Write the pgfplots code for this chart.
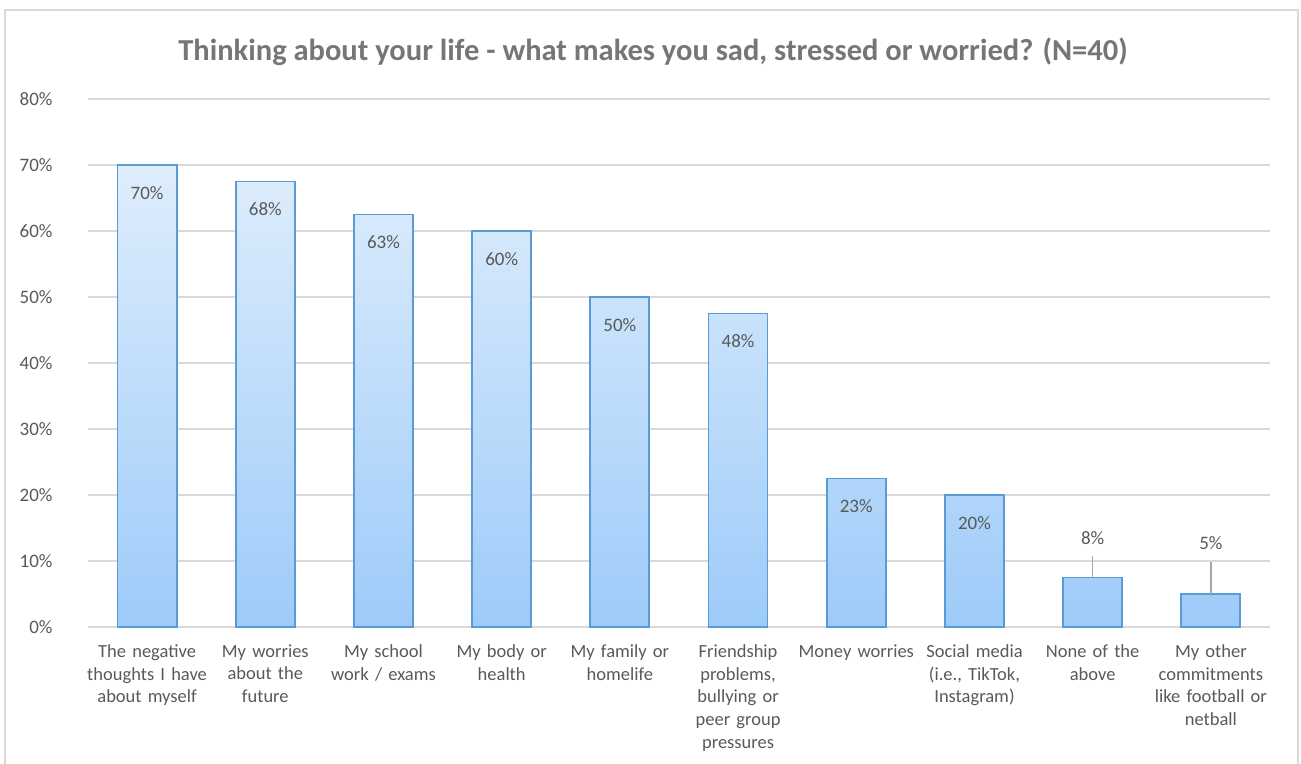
\documentclass[border=0pt]{standalone}
\usepackage{pgfplots}
\pgfplotsset{compat=1.18}
\usepackage{pgfplotstable}
\usepackage{fontspec}
\setmainfont{Carlito}
\definecolor{txt}{HTML}{595959}
\definecolor{ttl}{HTML}{767676}
\definecolor{gridc}{HTML}{D9D9D9}
\definecolor{barline}{HTML}{5B9BD5}
\definecolor{bartop}{HTML}{DEEDFC}
\definecolor{barbot}{HTML}{9DCBF9}
\definecolor{leader}{HTML}{A6A6A6}

\pgfplotstableread{
x y lab
0 70 70
1 67.5 68
2 62.5 63
3 60 60
4 50 50
5 47.5 48
6 22.5 23
7 20 20
8 7.5 8
9 5 5
}\alldata
\pgfplotstableread{
x y lab
0 70 70
1 67.5 68
2 62.5 63
3 60 60
4 50 50
5 47.5 48
6 22.5 23
7 20 20
}\inside
\pgfplotstableread{
x y lab
8 7.5 8
}\outA
\pgfplotstableread{
x y lab
9 5 5
}\outB

\begin{document}
\begin{tikzpicture}[x=1bp,y=1bp]
\useasboundingbox (0,0) rectangle (1301,763);
\draw[gridc, line width=1.2bp] (5,-20) -- (5,753) -- (1298,753) -- (1298,-20);
\node[font=\fontsize{30.5bp}{36bp}\selectfont\bfseries, text=ttl] at (653,711)
  {Thinking about your life - what makes you sad, stressed or worried? (N=40)};
\begin{axis}[
  at={(88bp,136bp)}, anchor=south west,
  scale only axis, width=1182bp, height=528bp,
  xmin=-0.5, xmax=9.5, ymin=0, ymax=80,
  ytick={0,10,...,80},
  yticklabel={\pgfmathprintnumber{\tick}\%},
  /pgf/number format/assume math mode=true,
  ymajorgrids, grid style={gridc, line width=1.3bp},
  axis line style={draw=none},
  major tick length=0pt,
  xtick={0,...,9},
  xticklabels={{The negative\\thoughts I have\\about myself}, {My worries\\about the\\future}, {My school\\work / exams}, {My body or\\health}, {My family or\\homelife}, {Friendship\\problems,\\bullying or\\peer group\\pressures}, {Money worries}, {Social media\\(i.e., TikTok,\\Instagram)}, {None of the\\above}, {My other\\commitments\\like football or\\netball}},
  xticklabel style={text width=140bp, align=center, anchor=north, yshift=-14bp, font=\fontsize{18.5bp}{22.7bp}\selectfont, text=txt},
  yticklabel style={font=\fontsize{19bp}{23bp}\selectfont, text=txt, xshift=-32bp},
  clip=false,
]
\addplot[ybar, bar width=59bp, bar shift=0pt, draw=barline, line width=1.8bp, top color=bartop, bottom color=barbot]
  table[x=x, y=y] {\alldata};
\addplot[only marks, mark=none, point meta=explicit symbolic,
  nodes near coords={\pgfplotspointmeta\%},
  every node near coord/.append style={anchor=center, yshift=-28bp, font=\fontsize{19bp}{23bp}\selectfont, text=txt}]
  table[x=x, y=y, meta=lab] {\inside};
\addplot[only marks, mark=none, point meta=explicit symbolic,
  nodes near coords={\pgfplotspointmeta\%},
  every node near coord/.append style={anchor=center, yshift=39bp, font=\fontsize{19bp}{23bp}\selectfont, text=txt}]
  table[x=x, y=y, meta=lab] {\outA};
\addplot[only marks, mark=none, point meta=explicit symbolic,
  nodes near coords={\pgfplotspointmeta\%},
  every node near coord/.append style={anchor=center, yshift=51bp, font=\fontsize{19bp}{23bp}\selectfont, text=txt}]
  table[x=x, y=y, meta=lab] {\outB};
\draw[leader, line width=1.3bp] (axis cs:8,7.5) -- (axis cs:8,10.8);
\draw[leader, line width=1.3bp] (axis cs:9,5) -- (axis cs:9,9.9);
\end{axis}
\end{tikzpicture}
\end{document}
